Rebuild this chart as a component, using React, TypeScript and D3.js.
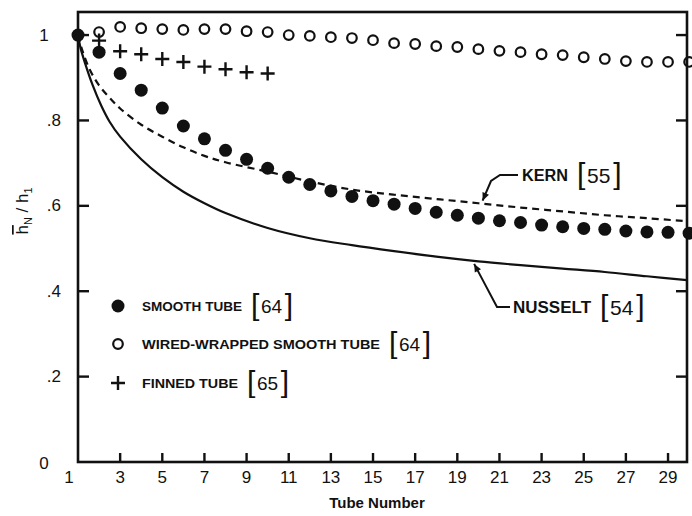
import React, { useEffect, useRef } from 'react';
import * as d3 from 'd3';

// smooth tube [64], filled circles
const smoothTubeN = [1, 2, 3, 4, 5, 6, 7, 8, 9, 10, 11, 12, 13, 14, 15, 16, 17, 18, 19, 20, 21, 22, 23, 24, 25, 26, 27, 28, 29, 30];
const smoothTube = [1.0, 0.96, 0.91, 0.871, 0.829, 0.787, 0.757, 0.73, 0.709, 0.688, 0.667, 0.65, 0.635, 0.622, 0.612, 0.604, 0.594, 0.585, 0.578, 0.571, 0.565, 0.561, 0.555, 0.551, 0.547, 0.545, 0.541, 0.539, 0.538, 0.536];

// wire-wrapped smooth tube [64], open circles
const wiredTubeN = [2, 3, 4, 5, 6, 7, 8, 9, 10, 11, 12, 13, 14, 15, 16, 17, 18, 19, 20, 21, 22, 23, 24, 25, 26, 27, 28, 29, 30];
const wiredTube = [1.007, 1.019, 1.016, 1.014, 1.012, 1.014, 1.014, 1.009, 1.007, 1.0, 0.998, 0.995, 0.993, 0.988, 0.981, 0.979, 0.974, 0.972, 0.967, 0.963, 0.96, 0.955, 0.953, 0.948, 0.944, 0.939, 0.937, 0.937, 0.937];

// finned tube [65], crosses
const finnedTubeN = [2, 3, 4, 5, 6, 7, 8, 9, 10];
const finnedTube = [0.987, 0.962, 0.955, 0.944, 0.937, 0.926, 0.92, 0.913, 0.91];

// Kern [55], dashed
const kernN = [1, 1.2, 1.55, 2, 2.5, 3, 4, 5, 6, 7, 8, 10, 12, 14, 16, 18, 20, 22, 24, 26, 28, 29.9];
const kernValues = [1.0, 0.965, 0.92, 0.882, 0.853, 0.828, 0.79, 0.762, 0.737, 0.717, 0.702, 0.68, 0.657, 0.638, 0.626, 0.616, 0.606, 0.596, 0.587, 0.578, 0.571, 0.564];

// Nusselt [54], solid
const nusseltN = [1, 1.12, 1.33, 1.7, 2.1, 2.5, 3, 4, 5, 6, 7, 8, 10, 12, 14, 16, 18, 20, 22, 24, 26, 28, 29.9];
const nusseltValues = [1.0, 0.97, 0.935, 0.882, 0.835, 0.797, 0.762, 0.709, 0.667, 0.633, 0.606, 0.583, 0.548, 0.524, 0.508, 0.494, 0.481, 0.47, 0.461, 0.453, 0.445, 0.435, 0.426];

const xTicks = [1, 3, 5, 7, 9, 11, 13, 15, 17, 19, 21, 23, 25, 27, 29];
const yTicks = [0, 0.2, 0.4, 0.6, 0.8, 1];
const yTickLabels = ['0', '.2', '.4', '.6', '.8', '1'];

const legendItems = [
  { symbol: 'filled', caps: 'SMOOTH TUBE', capsW: 100, ref: '64' },
  { symbol: 'open', caps: 'WIRED-WRAPPED SMOOTH TUBE', capsW: 238, ref: '64' },
  { symbol: 'cross', caps: 'FINNED TUBE', capsW: 96, ref: '65' },
];

const FONT = '"Liberation Sans", Arial, sans-serif';

const App = () => {
  const svgRef = useRef<SVGSVGElement>(null);

  useEffect(() => {
    const width = 692;
    const height = 516;
    const svg = d3.select(svgRef.current);
    svg.selectAll('*').remove();
    svg.attr('width', width).attr('height', height);

    const left = 78, right = 687, top = 12, bottom = 462;

    const x = d3.scaleLinear().domain([1, 29.9]).range([left, right]);
    const y = d3.scaleLinear().domain([0, 1.054]).range([bottom, top]);

    const g = svg.append('g');

    // curves
    const line = d3.line<[number, number]>()
      .x(d => x(d[0]))
      .y(d => y(d[1]))
      .curve(d3.curveCatmullRom.alpha(0.5));

    g.append('path')
      .datum(kernN.map((n, i) => [n, kernValues[i]] as [number, number]))
      .attr('d', line)
      .attr('fill', 'none')
      .attr('stroke', '#111')
      .attr('stroke-width', 2.2)
      .attr('stroke-dasharray', '7,5');

    g.append('path')
      .datum(nusseltN.map((n, i) => [n, nusseltValues[i]] as [number, number]))
      .attr('d', line)
      .attr('fill', 'none')
      .attr('stroke', '#111')
      .attr('stroke-width', 2.2);

    // frame
    g.append('rect')
      .attr('x', left).attr('y', top)
      .attr('width', right - left).attr('height', bottom - top)
      .attr('fill', 'none')
      .attr('stroke', '#111')
      .attr('stroke-width', 2.6);

    // ticks, pointing inward
    yTicks.filter(v => v > 0).forEach(v => {
      g.append('line').attr('x1', left).attr('x2', left + 11).attr('y1', y(v)).attr('y2', y(v))
        .attr('stroke', '#111').attr('stroke-width', 2.4);
      g.append('line').attr('x1', right).attr('x2', right - 11).attr('y1', y(v)).attr('y2', y(v))
        .attr('stroke', '#111').attr('stroke-width', 2.4);
    });
    xTicks.filter(v => v > 1).forEach(v => {
      g.append('line').attr('x1', x(v)).attr('x2', x(v)).attr('y1', bottom).attr('y2', bottom - 9)
        .attr('stroke', '#111').attr('stroke-width', 2.4);
    });

    // tick labels
    yTicks.forEach((v, i) => {
      const lab = yTickLabels[i];
      const dotted = lab.startsWith('.');
      g.append('text')
        .attr('x', dotted ? 61 : 44)
        .attr('y', y(v) + (v === 0 ? 1 : 0))
        .attr('text-anchor', dotted ? 'end' : 'middle')
        .attr('dominant-baseline', 'central')
        .attr('font-family', FONT)
        .attr('font-size', 17)
        .attr('fill', '#111')
        .text(lab);
    });
    xTicks.forEach(v => {
      g.append('text')
        .attr('x', x(v) - (v === 1 ? 9 : 0))
        .attr('y', 477)
        .attr('text-anchor', 'middle')
        .attr('dominant-baseline', 'central')
        .attr('font-family', FONT)
        .attr('font-size', 17)
        .attr('fill', '#111')
        .text(v);
    });

    // axis titles
    g.append('text')
      .attr('x', 377).attr('y', 508)
      .attr('text-anchor', 'middle')
      .attr('font-family', FONT)
      .attr('font-size', 15)
      .attr('font-weight', 'bold')
      .attr('fill', '#111')
      .text('Tube Number');

    const yt = g.append('text')
      .attr('transform', 'translate(28,211) rotate(-90)')
      .attr('text-anchor', 'middle')
      .attr('font-family', FONT)
      .attr('font-size', 17)
      .attr('fill', '#111');
    yt.append('tspan').attr('text-decoration', 'overline').text('h');
    yt.append('tspan').attr('font-size', 11).attr('dy', 4).text('N');
    yt.append('tspan').attr('dy', -4).text(' / h');
    yt.append('tspan').attr('font-size', 11).attr('dy', 4).text('1');

    // markers
    g.selectAll('.smooth')
      .data(smoothTubeN)
      .enter()
      .append('circle')
      .attr('cx', d => x(d))
      .attr('cy', (d, i) => y(smoothTube[i]))
      .attr('r', 6.5)
      .attr('fill', '#111');

    g.selectAll('.wired')
      .data(wiredTubeN)
      .enter()
      .append('circle')
      .attr('cx', d => x(d))
      .attr('cy', (d, i) => y(wiredTube[i]))
      .attr('r', 4.8)
      .attr('fill', 'none')
      .attr('stroke', '#111')
      .attr('stroke-width', 2.2);

    g.selectAll('.finned')
      .data(finnedTubeN)
      .enter()
      .append('path')
      .attr('transform', (d, i) => `translate(${x(d)},${y(finnedTube[i])})`)
      .attr('d', 'M-7,0H7M0,-7V7')
      .attr('stroke', '#111')
      .attr('stroke-width', 2.4);

    // caps label followed by a bracketed reference
    const label = (px: number, py: number, caps: string, capsW: number, capsSize: number, ref: string, refSize: number) => {
      g.append('text')
        .attr('x', px).attr('y', py + capsSize * 0.36)
        .attr('font-family', FONT)
        .attr('font-size', capsSize)
        .attr('font-weight', 'bold')
        .attr('textLength', capsW)
        .attr('lengthAdjust', 'spacingAndGlyphs')
        .attr('fill', '#111')
        .text(caps);
      const bx = px + capsW + 9;
      const bracket = (bxp: number, ch: string) =>
        g.append('text')
          .attr('x', bxp).attr('y', py + 9)
          .attr('font-family', FONT)
          .attr('font-size', 30)
          .attr('font-weight', 300)
          .attr('fill', '#111')
          .text(ch);
      bracket(bx, '[');
      g.append('text')
        .attr('x', bx + 10).attr('y', py + refSize * 0.36)
        .attr('font-family', FONT)
        .attr('font-size', refSize)
        .attr('fill', '#111')
        .text(ref);
      bracket(bx + 12 + refSize * 1.15, ']');
    };

    // legend
    const legendX = 118;
    const legendY = [306, 344, 383];
    legendItems.forEach((item, i) => {
      const ly = legendY[i];
      if (item.symbol === 'filled') {
        g.append('circle').attr('cx', legendX).attr('cy', ly).attr('r', 6.5).attr('fill', '#111');
      } else if (item.symbol === 'open') {
        g.append('circle').attr('cx', legendX).attr('cy', ly).attr('r', 4.8)
          .attr('fill', 'none').attr('stroke', '#111').attr('stroke-width', 2.2);
      } else {
        g.append('path').attr('transform', `translate(${legendX},${ly})`)
          .attr('d', 'M-7,0H7M0,-7V7').attr('stroke', '#111').attr('stroke-width', 2.4);
      }
      label(142, ly, item.caps, item.capsW, 12.5, item.ref, 19);
    });

    // annotations with leader arrows
    const arrow = (tipN: number, tipV: number, pts: [number, number][]) => {
      const tx = x(tipN), ty = y(tipV);
      const p = [...pts, [tx, ty] as [number, number]];
      g.append('path')
        .attr('d', d3.line()(p))
        .attr('fill', 'none')
        .attr('stroke', '#111')
        .attr('stroke-width', 2);
      const [ax, ay] = p[p.length - 2];
      const ang = Math.atan2(ty - ay, tx - ax);
      const len = 8, wid = 3.5;
      const bxp = tx - len * Math.cos(ang), byp = ty - len * Math.sin(ang);
      g.append('path')
        .attr('d', `M${tx},${ty}L${bxp - wid * Math.sin(ang)},${byp + wid * Math.cos(ang)}L${bxp + wid * Math.sin(ang)},${byp - wid * Math.cos(ang)}Z`)
        .attr('fill', '#111');
    };

    arrow(20.2, 0.612, [[518, 175], [500, 175], [491, 181]]);
    label(522, 175, 'KERN', 46, 16, '55', 21);

    arrow(19.8, 0.464, [[510, 307], [497, 307]]);
    label(513, 307, 'NUSSELT', 78, 16, '54', 21);
  }, []);

  return <svg ref={svgRef} style={{ position: 'absolute', left: 0, top: 0, background: '#fff' }}></svg>;
};

export default App;
